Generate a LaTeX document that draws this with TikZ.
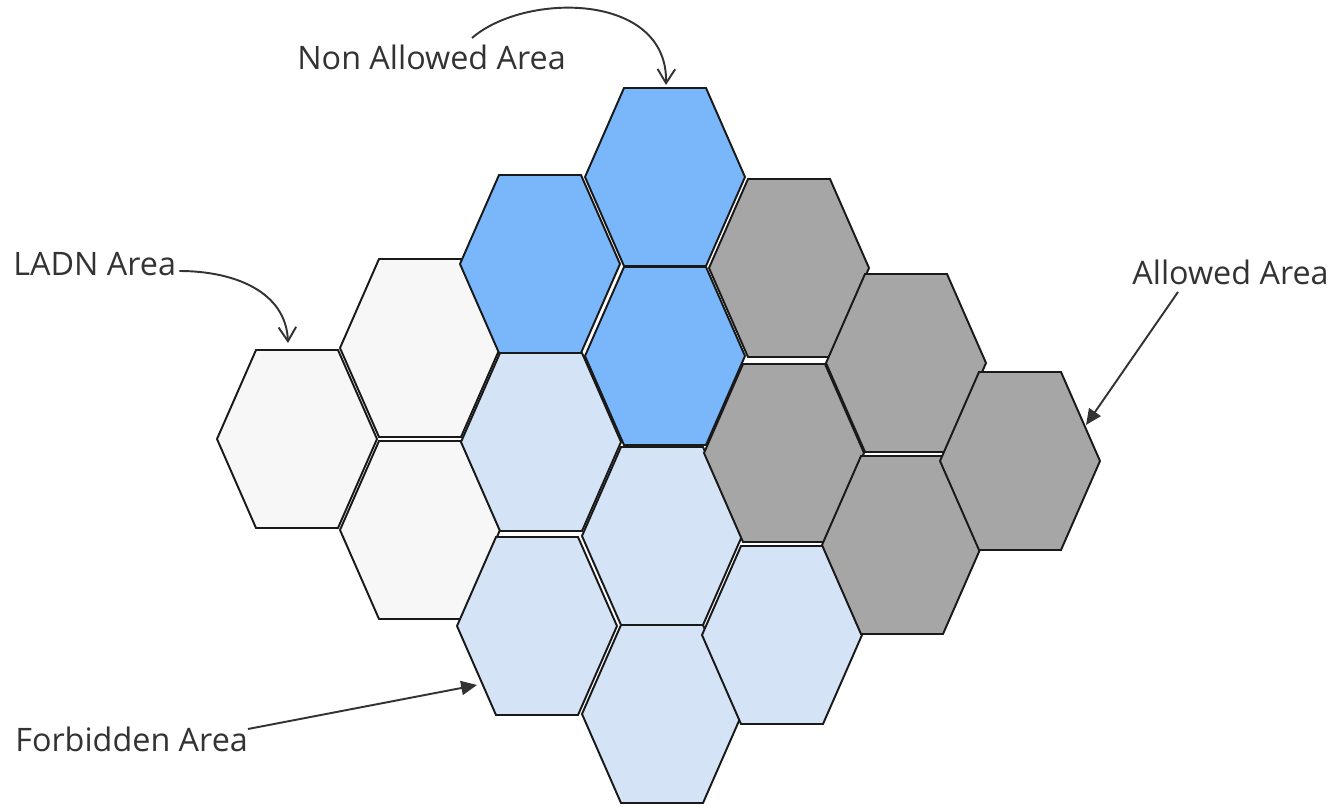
\documentclass[tikz,border=0pt]{standalone}
\usepackage{fontspec}
\setmainfont{Open Sans}
\usetikzlibrary{arrows.meta}
\definecolor{nonallowed}{HTML}{7AB6FA}
\definecolor{forbidden}{HTML}{D4E4F6}
\definecolor{allowed}{HTML}{A6A6A6}
\definecolor{ladn}{HTML}{F7F7F7}
\definecolor{ink}{HTML}{333333}
\begin{document}
\begin{tikzpicture}[x=0.02cm,y=-0.02cm]
  \tikzstyle{cell}=[draw=black!90,line width=1.1pt,line join=miter]
  \tikzstyle{lbl}=[anchor=base west,inner sep=0pt,text=ink,font=\fontsize{18.4}{22}\selectfont]
  \tikzstyle{pointer}=[draw=ink,line width=1.1pt]
\useasboundingbox (0,0) rectangle (1336,807);
% cells: centre x / centre y / fill
\foreach \cx/\cy/\c [count=\i] in {297/439/ladn, 420/348/ladn, 420/530/ladn,
    540/264/nonallowed, 665/177/nonallowed, 665/356/nonallowed,
    541/442/forbidden, 662/536/forbidden, 537/626/forbidden, 662/714/forbidden, 782/635/forbidden,
    789/268/allowed, 906/363/allowed, 784/453/allowed, 902/545/allowed, 1020/461/allowed}
  {\draw[cell,fill=\c] (\cx-80,\cy) -- ++(39,-89) -- ++(82,0) -- ++(39,89) -- ++(-39,89) -- ++(-82,0) -- cycle;
   \coordinate (h\i) at (\cx,\cy);}
% labels
\node[lbl] (nonallowedlbl) at (297,70) {Non Allowed Area};
\node[lbl] (ladnlbl) at (13,276) {LADN Area};
\node[lbl] (allowedlbl) at (1132,285) {Allowed Area};
\node[lbl] (forbiddenlbl) at (15,751) {Forbidden Area};
% pointers
\coordinate (naStart) at (472,38);
\coordinate (naTip) at (666,85);
\coordinate (ladnTip) at (288,343);
\coordinate (alStart) at (1178,292);
\coordinate (alTip) at (1086,425);
\coordinate (fbStart) at (248,729);
\coordinate (fbTip) at (477,685);
\draw[pointer,-{Straight Barb[length=8pt,width=10pt]}] (naStart) .. controls (525,-8) and (668,-8) .. (naTip);
\draw[pointer,-{Straight Barb[length=8pt,width=10pt]}] ([shift={(3,-5)}]ladnlbl.base east) .. controls (235,271) and (286,292) .. (ladnTip);
\draw[pointer,-{Triangle[length=9pt,width=8pt]}] (alStart) -- (alTip);
\draw[pointer,-{Triangle[length=9pt,width=8pt]}] (fbStart) -- (fbTip);
\end{tikzpicture}
\end{document}
